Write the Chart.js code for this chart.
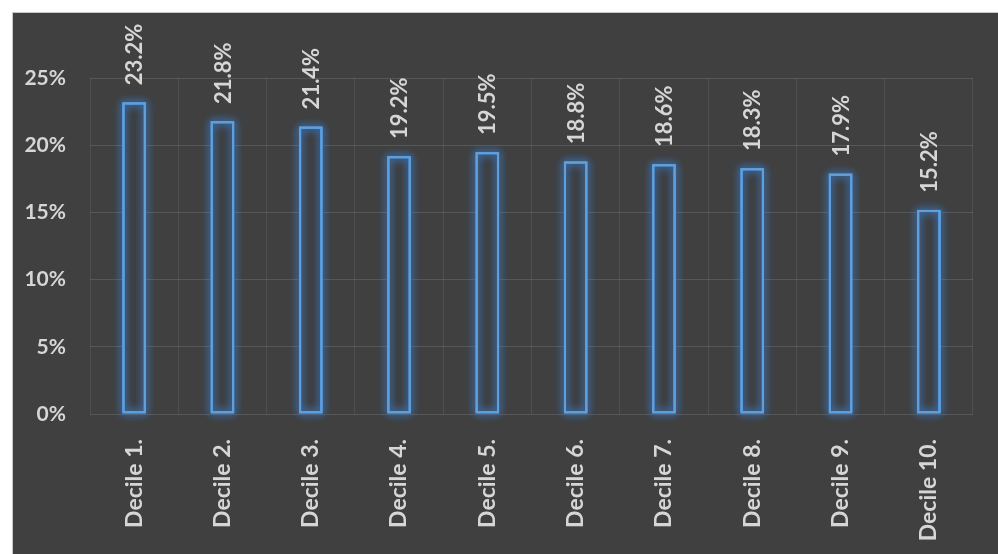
<!DOCTYPE html>
<html>
<head>
<meta charset="utf-8">
<script src="https://cdn.jsdelivr.net/npm/chart.js@4"></script>
<style>
  html, body { margin: 0; padding: 0; background: #fff; }
  body { width: 998px; height: 554px; position: relative; overflow: hidden; }
  #panel {
    position: absolute; left: 12px; top: 12px; width: 986px; height: 542px;
    background: #404040; border-top: 1px solid #c8c8c8; border-left: 1px solid #c8c8c8;
    box-sizing: border-box;
  }
  #panel canvas { position: absolute; left: 0; top: 0; }
</style>
</head>
<body>
<div id="panel"><canvas id="decileChart" width="985" height="541"></canvas></div>
<script>
// decile shares (percent)
const categories = ['Decile 1.', 'Decile 2.', 'Decile 3.', 'Decile 4.', 'Decile 5.',
                    'Decile 6.', 'Decile 7.', 'Decile 8.', 'Decile 9.', 'Decile 10.'];
const shares = [23.2, 21.8, 21.4, 19.2, 19.5, 18.8, 18.6, 18.3, 17.9, 15.2];
const yTicks = [0, 5, 10, 15, 20, 25];

const textColor = '#d6d6d6';
const barBlue = '#5f9fdc';

// soft blue glow traced around each bar outline
const glowPlugin = {
  id: 'glow',
  afterDatasetsDraw(chart) {
    const ctx = chart.ctx;
    const meta = chart.getDatasetMeta(0);
    ctx.save();
    ctx.strokeStyle = barBlue;
    ctx.lineWidth = 2;
    ctx.shadowColor = 'rgba(60, 140, 235, 1)';
    ctx.shadowBlur = 9;
    meta.data.forEach(bar => {
      const p = bar.getProps(['x', 'y', 'base', 'width'], true);
      const left = p.x - p.width / 2 + 1.25;
      ctx.strokeRect(left, p.y + 1.25, p.width - 2.5, p.base - p.y - 2.5);
      ctx.strokeRect(left, p.y + 1.25, p.width - 2.5, p.base - p.y - 2.5);
    });
    ctx.restore();
  }
};

// rotated value labels above each bar
const valueLabels = {
  id: 'valueLabels',
  afterDraw(chart) {
    const ctx = chart.ctx;
    const meta = chart.getDatasetMeta(0);
    ctx.save();
    ctx.fillStyle = textColor;
    ctx.font = 'bold 22px Lato';
    ctx.textAlign = 'left';
    ctx.textBaseline = 'middle';
    meta.data.forEach((bar, i) => {
      ctx.save();
      ctx.translate(bar.x, bar.y - 17);
      ctx.rotate(-Math.PI / 2);
      ctx.fillText(shares[i].toFixed(1) + '%', 0, 1);
      ctx.restore();
    });
    ctx.restore();
  }
};

new Chart(document.getElementById('decileChart').getContext('2d'), {
  type: 'bar',
  data: {
    labels: categories,
    datasets: [{
      data: shares,
      backgroundColor: '#3e3e3e',
      borderColor: barBlue,
      borderWidth: 2.5,
      borderSkipped: false,
      barPercentage: 0.27,
      categoryPercentage: 1
    }]
  },
  options: {
    responsive: false,
    animation: false,
    layout: { padding: { top: 65, right: 25, left: 0, bottom: 0 } },
    plugins: {
      legend: { display: false },
      tooltip: { enabled: false }
    },
    scales: {
      x: {
        grid: { color: 'rgba(255,255,255,0.08)', drawTicks: false, offset: true },
        border: { display: false },
        ticks: {
          color: textColor, font: { family: 'Lato', size: 23, weight: 'bold' }, padding: 25,
          minRotation: 90, maxRotation: 90, autoSkip: false
        },
        afterFit(scale) { scale.height = 140; }
      },
      y: {
        min: 0, max: 25,
        afterBuildTicks(scale) { scale.ticks = yTicks.map(v => ({ value: v })); },
        grid: { color: 'rgba(255,255,255,0.12)', drawTicks: false },
        border: { display: false },
        ticks: {
          color: textColor, font: { family: 'Lato', size: 21, weight: 'bold' }, padding: 24,
          callback: v => v + '%'
        },
        afterFit(scale) { scale.width = 77; }
      }
    }
  },
  plugins: [glowPlugin, valueLabels]
});
</script>
</body>
</html>
